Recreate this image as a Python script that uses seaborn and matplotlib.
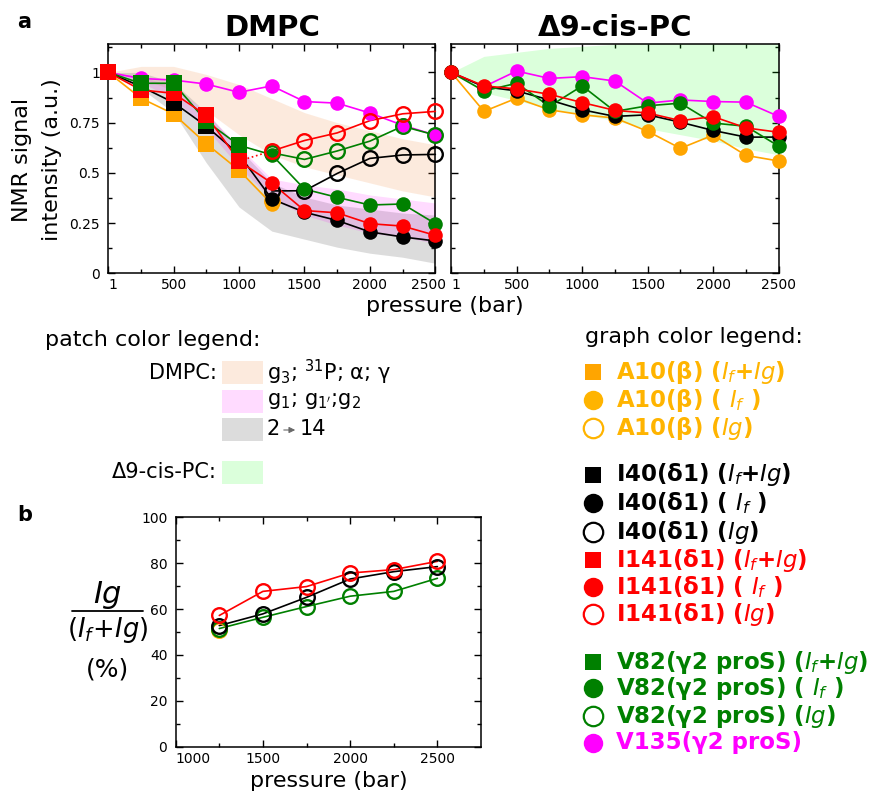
import matplotlib

matplotlib.use("Agg")
import matplotlib.pyplot as plt
import matplotlib.transforms as mtransforms
import seaborn as sns
from matplotlib.patches import Rectangle
from matplotlib.ticker import FixedLocator, MultipleLocator

# ---- data -------------------------------------------------------------
pressure = [1, 250, 500, 750, 1000, 1250, 1500, 1750, 2000, 2250, 2500]
p_sum = pressure[:5]          # squares (If+Ig)
p_split = pressure[5:]        # circles (If / Ig)

# DMPC, panel a left
dmpc_a10_sum = [1.0, 0.872, 0.793, 0.645, 0.513]
dmpc_a10_f = [0.345]
dmpc_a10_g = [0.36]
dmpc_i40_sum = [1.0, 0.93, 0.85, 0.732, 0.592]
dmpc_i40_f = [0.37, 0.304, 0.263, 0.206, 0.181, 0.161]
dmpc_i40_g = [0.41, 0.411, 0.497, 0.572, 0.589, 0.592]
dmpc_i141_sum = [1.0, 0.913, 0.896, 0.786, 0.559]
dmpc_i141_f = [0.449, 0.3125, 0.301, 0.247, 0.235, 0.189]
dmpc_i141_g = [0.609, 0.661, 0.699, 0.760, 0.794, 0.806]
dmpc_v82_sum = [1.0, 0.946, 0.946, 0.757, 0.637]
dmpc_v82_f = [0.59, 0.419, 0.378, 0.340, 0.345, 0.247]
dmpc_v82_g = [0.60, 0.567, 0.609, 0.658, 0.732, 0.688]
dmpc_v135 = [1.0, 0.970, 0.962, 0.942, 0.901, 0.933, 0.855, 0.847, 0.798, 0.737, 0.688]

# DMPC lipid bands (lower, upper)
band_g3_lo = [1.0, 0.97, 0.91, 0.81, 0.69, 0.59, 0.53, 0.49, 0.45, 0.41, 0.38]
band_g3_hi = [1.0, 1.03, 1.03, 0.99, 0.94, 0.87, 0.80, 0.75, 0.71, 0.67, 0.64]
band_g1_lo = [1.0, 0.95, 0.87, 0.72, 0.53, 0.37, 0.29, 0.24, 0.20, 0.18, 0.15]
band_g1_hi = [1.0, 0.98, 0.93, 0.80, 0.63, 0.47, 0.44, 0.42, 0.39, 0.37, 0.35]
band_c2_lo = [1.0, 0.92, 0.80, 0.55, 0.33, 0.21, 0.17, 0.13, 0.10, 0.08, 0.05]
band_c2_hi = [1.0, 1.0, 0.95, 0.80, 0.62, 0.45, 0.38, 0.34, 0.32, 0.30, 0.29]

# delta9-cis-PC, panel a right
pc_a10 = [1.0, 0.806, 0.872, 0.814, 0.789, 0.773, 0.707, 0.622, 0.688, 0.587, 0.559]
pc_i40 = [1.0, 0.929, 0.908, 0.863, 0.814, 0.781, 0.789, 0.752, 0.711, 0.678, 0.678]
pc_i141 = [1.0, 0.933, 0.918, 0.891, 0.850, 0.811, 0.798, 0.760, 0.780, 0.724, 0.702]
pc_v82 = [1.0, 0.908, 0.946, 0.831, 0.933, 0.806, 0.834, 0.847, 0.748, 0.732, 0.633]
pc_v135 = [1.0, 0.929, 1.007, 0.970, 0.979, 0.957, 0.847, 0.863, 0.855, 0.852, 0.781]
band_pc_lo = [1.0, 0.90, 0.86, 0.82, 0.79, 0.76, 0.72, 0.69, 0.66, 0.62, 0.59]
band_pc_hi = [1.0, 1.08, 1.10, 1.12, 1.13, 1.14, 1.15, 1.15, 1.15, 1.15, 1.15]

# panel b: Ig / (If + Ig) in %
b_pressure = [1250, 1500, 1750, 2000, 2250, 2500]
b_a10 = [50.9]
b_i40 = [52.8, 57.9, 65.1, 73.1, 76.3, 78.5]
b_i141 = [57.2, 67.7, 69.8, 75.7, 77.2, 80.8]
b_v82 = [51.5, 56.4, 61.1, 65.6, 67.7, 73.4]

C_A10, C_I40, C_I141, C_V82, C_V135 = "orange", "black", "red", "green", "magenta"
C_A10_TXT = "#FFB400"
BAND_G3 = ("#F07820", 0.15)
BAND_G1 = ("magenta", 0.14)
BAND_C2 = ("gray", 0.27)
BAND_PC = ("lime", 0.14)

sns.set_style("ticks")
plt.rcParams["font.family"] = ["DejaVu Sans"]
plt.rcParams["mathtext.fontset"] = "dejavusans"
for key in ("text.color", "axes.labelcolor", "xtick.color", "ytick.color",
            "axes.edgecolor"):
    plt.rcParams[key] = "black"


def line(ax, x, y, color, ls="-", z=3):
    sns.lineplot(x=x, y=y, ax=ax, color=color, lw=1.2, linestyle=ls,
                 zorder=z, legend=False, clip_on=False)


def marks(ax, x, y, color, marker="o", open_=False, ms=10.5, z=4):
    sns.lineplot(x=x, y=y, ax=ax, color=color, linestyle="none", marker=marker,
                 markersize=ms, markeredgecolor=color,
                 markerfacecolor="none" if open_ else color,
                 markeredgewidth=1.7 if open_ else 0,
                 zorder=z, legend=False, clip_on=False)


def style_axis(ax):
    ax.tick_params(which="both", direction="in", top=True, right=True,
                   labelsize=10, width=1, color="black", labelcolor="black")
    ax.tick_params(which="major", length=5)
    ax.tick_params(which="minor", length=3)
    ax.tick_params(axis="y", pad=6)
    for s in ax.spines.values():
        s.set_linewidth(1.1)
        s.set_color("black")


fig = plt.figure(figsize=(8.77, 7.94), dpi=100)
over = fig.add_axes([0, 0, 1, 1])
over.set_xlim(0, 877)
over.set_ylim(794, 0)
over.axis("off")

ax1 = fig.add_axes([0.1235, 0.6558, 0.3729, 0.2884])
ax2 = fig.add_axes([0.5146, 0.6558, 0.3733, 0.2884])
axb = fig.add_axes([0.2003, 0.0596, 0.3482, 0.2889])

# ---- DMPC -------------------------------------------------------------
for lo, hi, (c, a) in [(band_g3_lo, band_g3_hi, BAND_G3),
                       (band_c2_lo, band_c2_hi, BAND_C2),
                       (band_g1_lo, band_g1_hi, BAND_G1)]:
    ax1.fill_between(pressure, lo, hi, color=c, alpha=a, lw=0, zorder=1)

line(ax1, pressure, dmpc_v135, C_V135)
marks(ax1, pressure, dmpc_v135, C_V135)

series = [
    (C_A10, dmpc_a10_sum, dmpc_a10_f, dmpc_a10_g),
    (C_I40, dmpc_i40_sum, dmpc_i40_f, dmpc_i40_g),
    (C_V82, dmpc_v82_sum, dmpc_v82_f, dmpc_v82_g),
    (C_I141, dmpc_i141_sum, dmpc_i141_f, dmpc_i141_g),
]
for c, s_sum, s_f, s_g in series:
    pf = p_split[:len(s_f)]
    pg = p_split[:len(s_g)]
    line(ax1, p_sum + pf, s_sum + s_f, c)
    if len(s_g) > 1:
        line(ax1, pg, s_g, c)
    if c == C_I141:
        line(ax1, [p_sum[-1], pg[0]], [s_sum[-1], s_g[0]], c, ls=":")
    marks(ax1, pg, s_g, c, open_=True)
    marks(ax1, pf, s_f, c)
    marks(ax1, p_sum, s_sum, c, marker="s", ms=11)
# green squares sit on top of red at 250 and 500 bar
marks(ax1, p_sum[1:3], dmpc_v82_sum[1:3], C_V82, marker="s", ms=11, z=5)

# ---- delta9-cis-PC ---------------------------------------------------------
ax2.fill_between(pressure, band_pc_lo, band_pc_hi, color=BAND_PC[0],
                 alpha=BAND_PC[1], lw=0, zorder=1)
for c, ys in [(C_V135, pc_v135), (C_A10, pc_a10), (C_I40, pc_i40),
              (C_V82, pc_v82), (C_I141, pc_i141)]:
    line(ax2, pressure, ys, c)
    marks(ax2, pressure, ys, c)

for ax in (ax1, ax2):
    ax.set_xlim(1, 2500)
    ax.set_ylim(0, 1.14)
    ax.xaxis.set_major_locator(FixedLocator([1, 500, 1000, 1500, 2000, 2500]))
    ax.xaxis.set_minor_locator(FixedLocator([250, 750, 1250, 1750, 2250]))
    ax.yaxis.set_major_locator(FixedLocator([0, 0.25, 0.5, 0.75, 1]))
    ax.yaxis.set_minor_locator(FixedLocator([0.125, 0.375, 0.625, 0.875, 1.125]))
    ax.set_xticklabels(["1", "500", "1000", "1500", "2000", "2500"])
    ax.set_xlabel("")
    ax.set_ylabel("")
    style_axis(ax)
ax1.set_yticklabels(["0", "0.25", "0.5", "0.75", "1"])
ax2.tick_params(labelleft=False)
ax1.set_title("DMPC", fontsize=21, fontweight="bold", pad=6)
ax2.set_title("\u03949-cis-PC", fontsize=21, fontweight="bold", pad=6)

# ---- panel b ---------------------------------------------------------
for c, ys in [(C_A10, b_a10), (C_V82, b_v82), (C_I40, b_i40), (C_I141, b_i141)]:
    px = b_pressure[:len(ys)]
    if len(ys) > 1:
        line(axb, px, ys, c)
    marks(axb, px, ys, c, open_=True)
axb.set_xlim(1000, 2750)
axb.set_ylim(0, 100)
axb.xaxis.set_major_locator(FixedLocator([1000, 1500, 2000, 2500]))
axb.xaxis.set_minor_locator(FixedLocator([1250, 1750, 2250]))
axb.yaxis.set_major_locator(MultipleLocator(20))
axb.yaxis.set_minor_locator(MultipleLocator(10))
axb.set_ylabel("")
axb.set_xlabel("pressure (bar)", fontsize=16, labelpad=4)
style_axis(axb)

# edge tick labels nudged like the reference
axb.get_xticklabels()[0].set_ha("left")
ax1.get_xticklabels()[0].set_ha("left")
ax2.get_xticklabels()[0].set_ha("left")
lab = ax1.get_xticklabels()[-1]
lab.set_transform(lab.get_transform()
                  + mtransforms.ScaledTranslation(-0.07, 0, fig.dpi_scale_trans))

# ---- figure texts ------------------------------------------------------
over.text(17, 22, "a", fontsize=15, fontweight="bold", va="center")
over.text(17, 515, "b", fontsize=15, fontweight="bold", va="center")
over.text(445, 306, "pressure (bar)", fontsize=16, ha="center", va="center")
over.text(37, 160, "NMR signal\nintensity (a.u.)", fontsize=16, rotation=90,
          ha="center", va="center", multialignment="center", linespacing=1.6)
over.text(108, 595, r"$Ig$", fontsize=22, ha="center", va="center")
over.plot([72, 143], [611, 611], color="black", lw=1.3)
over.text(108, 630, r"$(I_f\!+\!Ig)$", fontsize=18.5, ha="center", va="center")
over.text(108, 670, "(%)", fontsize=18, ha="center", va="center")

# patch colour legend
over.text(45, 340, "patch color legend:", fontsize=16, va="center")
over.text(217, 373, "DMPC:", fontsize=15, ha="right", va="center")
over.text(217, 472, "\u03949-cis-PC:", fontsize=15, ha="right", va="center")
patch_rows = [(361, BAND_G3, r"g$_3$; $^{31}$P; α; γ"),
              (390, BAND_G1, r"g$_1$; g$_{1'}$;g$_2$"),
              (418, BAND_C2, None),
              (461, BAND_PC, "")]
for y0, (c, a), txt in patch_rows:
    over.add_patch(Rectangle((222, y0), 41, 22.5, facecolor=c, alpha=a, lw=0))
    if txt:
        over.text(267, y0 + 11, txt, fontsize=15, va="center")
over.text(267, 429, "2", fontsize=15, va="center")
over.text(300, 429, "14", fontsize=15, va="center")
over.annotate("", xy=(298, 430), xytext=(281, 430),
              arrowprops=dict(arrowstyle="-|>", color="dimgray", lw=0.8,
                              mutation_scale=9))

# graph colour legend
over.text(585, 337, "graph color legend:", fontsize=16, va="center")
legend_rows = [
    (372, C_A10, C_A10_TXT, "s", False, r"A10(β) ($I_f$+$Ig$)"),
    (400, C_A10_TXT, C_A10_TXT, "o", False, r"A10(β) ( $I_f$ )"),
    (428, C_A10_TXT, C_A10_TXT, "o", True, r"A10(β) ($Ig$)"),
    (475, C_I40, C_I40, "s", False, r"I40(δ1) ($I_f$+$Ig$)"),
    (503, C_I40, C_I40, "o", False, r"I40(δ1) ( $I_f$ )"),
    (532, C_I40, C_I40, "o", True, r"I40(δ1) ($Ig$)"),
    (560, C_I141, C_I141, "s", False, r"I141(δ1) ($I_f$+$Ig$)"),
    (587, C_I141, C_I141, "o", False, r"I141(δ1) ( $I_f$ )"),
    (614, C_I141, C_I141, "o", True, r"I141(δ1) ($Ig$)"),
    (662, C_V82, C_V82, "s", False, r"V82(γ2 proS) ($I_f$+$Ig$)"),
    (688, C_V82, C_V82, "o", False, r"V82(γ2 proS) ( $I_f$ )"),
    (716, C_V82, C_V82, "o", True, r"V82(γ2 proS) ($Ig$)"),
    (743, C_V135, C_V135, "o", False, r"V135(γ2 proS)"),
]
for y, mc, tc, mk, op, txt in legend_rows:
    over.plot([593], [y], marker=mk, ms=12 if mk == "s" else 14,
              mfc="none" if op else mc, mec=mc, mew=1.6 if op else 0,
              linestyle="none")
    over.text(616, y, txt, fontsize=16.5, fontweight="bold", color=tc, va="center")

fig.savefig("out.png", dpi=100)
